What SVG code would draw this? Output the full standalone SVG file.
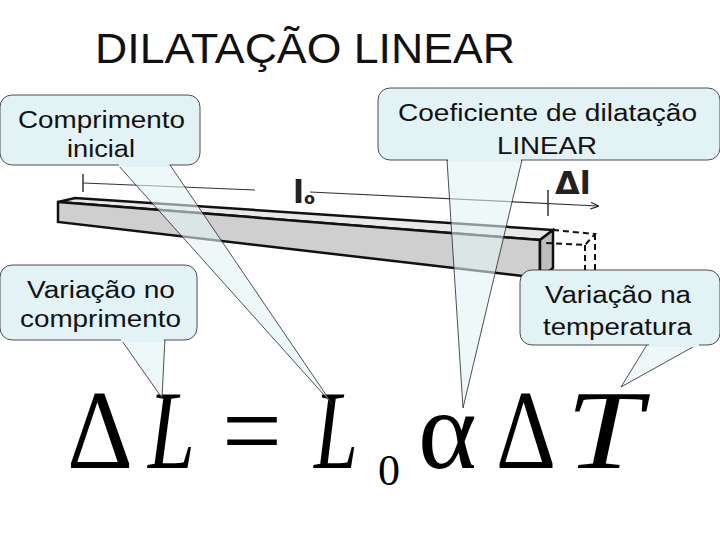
<svg xmlns="http://www.w3.org/2000/svg" width="720" height="540" viewBox="0 0 720 540">
<defs>
<style>
.co{fill:#e3f3f5;stroke:#222;stroke-width:0.8}
.tl{fill:#e3f3f5;fill-opacity:0.6;stroke:#222;stroke-width:0.8}
.ct{font-family:"Liberation Sans",Arial,sans-serif;font-size:23px;fill:#111}
.fm{font-family:"Liberation Serif","Times New Roman",serif;fill:#000;font-size:112px}
</style>
<marker id="ar" viewBox="0 0 10 10" refX="9" refY="5" markerWidth="7" markerHeight="7" orient="auto"><path d="M0,1 L10,5 L0,9" fill="none" stroke="#222" stroke-width="1.5"/></marker>
</defs>
<rect width="720" height="540" fill="#fff"/>
<text x="95" y="63" font-family="Liberation Sans,Arial,sans-serif" font-size="42" fill="#111" textLength="420" lengthAdjust="spacingAndGlyphs">DILATAÇÃO LINEAR</text>
<g id="bar">
<polygon points="58,202 75,198 553,230 540,240" fill="#e8e8e8" stroke="#111" stroke-width="2.5"/>
<polygon points="58,202 540,240 540,278 58,222" fill="#cfcfcf" stroke="#111" stroke-width="2.5"/>
<polygon points="540,240 553,230 553,268 540,278" fill="#bdbdbd" stroke="#111" stroke-width="2.5"/>
<g fill="none" stroke="#111" stroke-width="2" stroke-dasharray="6,4">
<polyline points="553,230 595,234 585,245 545,243"/>
<polyline points="595,234 595,270 585,282 540,278"/>
<line x1="585" y1="245" x2="585" y2="282"/>
</g>
<line x1="83" y1="174" x2="83" y2="192" stroke="#333" stroke-width="1.5"/>
<line x1="83" y1="183" x2="255" y2="190" stroke="#333" stroke-width="1.2"/>
<line x1="310" y1="192" x2="598" y2="206" stroke="#333" stroke-width="1.2" marker-end="url(#ar)"/>
<line x1="548" y1="190" x2="548" y2="216" stroke="#333" stroke-width="1.5"/>
<text x="293" y="203" font-family="DejaVu Sans,sans-serif" font-size="32" font-weight="bold" fill="#222">l</text>
<text x="304" y="204" font-family="DejaVu Sans,sans-serif" font-size="16" font-weight="bold" fill="#222">o</text>
<text x="555" y="194" font-family="DejaVu Sans,sans-serif" font-size="32" font-weight="bold" fill="#222">Δl</text>
</g>
<g id="formula" class="fm">
<text x="67" y="468" textLength="66" lengthAdjust="spacingAndGlyphs">Δ</text>
<text x="148" y="468" font-style="italic" textLength="47" lengthAdjust="spacingAndGlyphs">L</text>
<text x="222" y="468" textLength="60" lengthAdjust="spacingAndGlyphs">=</text>
<text x="314" y="468" font-style="italic" textLength="44" lengthAdjust="spacingAndGlyphs">L</text>
<text x="378" y="485" font-size="44px">0</text>
<text x="418" y="468">α</text>
<text x="496" y="468" textLength="60" lengthAdjust="spacingAndGlyphs">Δ</text>
<text x="566" y="468" font-style="italic" textLength="76" lengthAdjust="spacingAndGlyphs">T</text>
</g>
<g id="connectors">
<polygon class="tl" points="118,165 170,165 333,405"/>
<polygon class="tl" points="120,338 165,338 162,398"/>
<polygon class="tl" points="447,160 522,160 463,408"/>
<polygon class="tl" points="648,343 700,343 621,387"/>
</g>
<g id="n1"><rect class="co" x="0" y="95" width="200" height="70" rx="12"/>
<polygon points="119,163 169,163 170,167 118,167" fill="#e3f3f5"/>
<text class="ct" x="18" y="128" textLength="167" lengthAdjust="spacingAndGlyphs">Comprimento</text><text class="ct" x="67" y="157" textLength="68" lengthAdjust="spacingAndGlyphs">inicial</text></g>
<g id="n2"><rect class="co" x="0" y="265" width="197" height="75" rx="12"/>
<polygon points="121,338 164,338 164,342 121,342" fill="#e3f3f5"/>
<text class="ct" x="27" y="298" textLength="148" lengthAdjust="spacingAndGlyphs">Variação no</text><text class="ct" x="20" y="327" textLength="161" lengthAdjust="spacingAndGlyphs">comprimento</text></g>
<g id="n3"><rect class="co" x="378" y="88" width="342" height="72" rx="12"/>
<polygon points="448,158 521,158 521,162 448,162" fill="#e3f3f5"/>
<text class="ct" x="398" y="121" textLength="299" lengthAdjust="spacingAndGlyphs">Coeficiente de dilatação</text><text class="ct" x="497" y="154" textLength="100" lengthAdjust="spacingAndGlyphs">LINEAR</text></g>
<g id="n4"><rect class="co" x="520" y="270" width="200" height="75" rx="12"/>
<polygon points="649,343 699,343 699,347 649,347" fill="#e3f3f5"/>
<text class="ct" x="545" y="303" textLength="146" lengthAdjust="spacingAndGlyphs">Variação na</text><text class="ct" x="543" y="335" textLength="149" lengthAdjust="spacingAndGlyphs">temperatura</text></g>
</svg>
